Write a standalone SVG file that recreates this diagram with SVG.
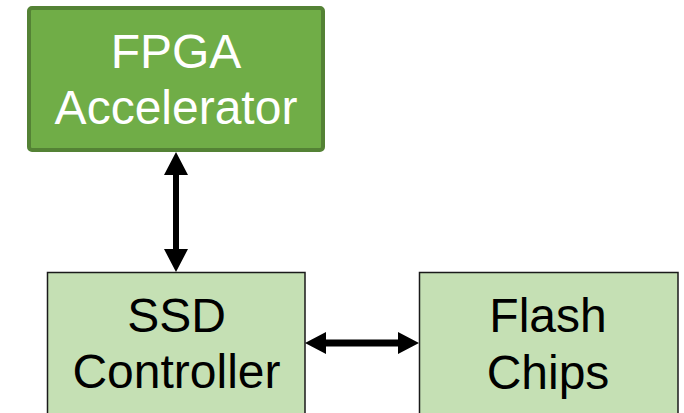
<svg xmlns="http://www.w3.org/2000/svg" width="684" height="413" viewBox="0 0 684 413">
<style>
.t{font-family:"Liberation Sans",Arial,sans-serif;font-size:48px;text-anchor:middle}
.light{fill:#c5e0b4;stroke:#1a1a1a;stroke-width:1.5}
</style>
<rect width="684" height="413" fill="#fff"/>
<g id="fpga">
<rect x="29" y="8" width="294" height="142" rx="3" fill="#70ad47" stroke="#548235" stroke-width="4"/>
<text class="t" x="176" y="68" fill="#fff">FPGA</text>
<text class="t" x="176" y="124" fill="#fff">Accelerator</text>
</g>
<g id="ssd">
<rect class="light" x="47.5" y="272.5" width="257.5" height="150"/>
<text class="t" x="176.5" y="332" fill="#000">SSD</text>
<text class="t" x="176.5" y="388" fill="#000">Controller</text>
</g>
<g id="flash">
<rect class="light" x="419.5" y="272.5" width="258.5" height="150"/>
<text class="t" x="548" y="332" fill="#000">Flash</text>
<text class="t" x="548" y="389" fill="#000">Chips</text>
</g>
<g id="connectors" fill="#000">
<path d="M176 152 L188 175 L179 175 L179 249 L188 249 L176 272 L164 249 L173 249 L173 175 L164 175 Z"/>
<path d="M305 343 L326 332 L326 339.5 L398 339.5 L398 332 L419 343 L398 354 L398 346.5 L326 346.5 L326 354 Z"/>
</g>
</svg>
